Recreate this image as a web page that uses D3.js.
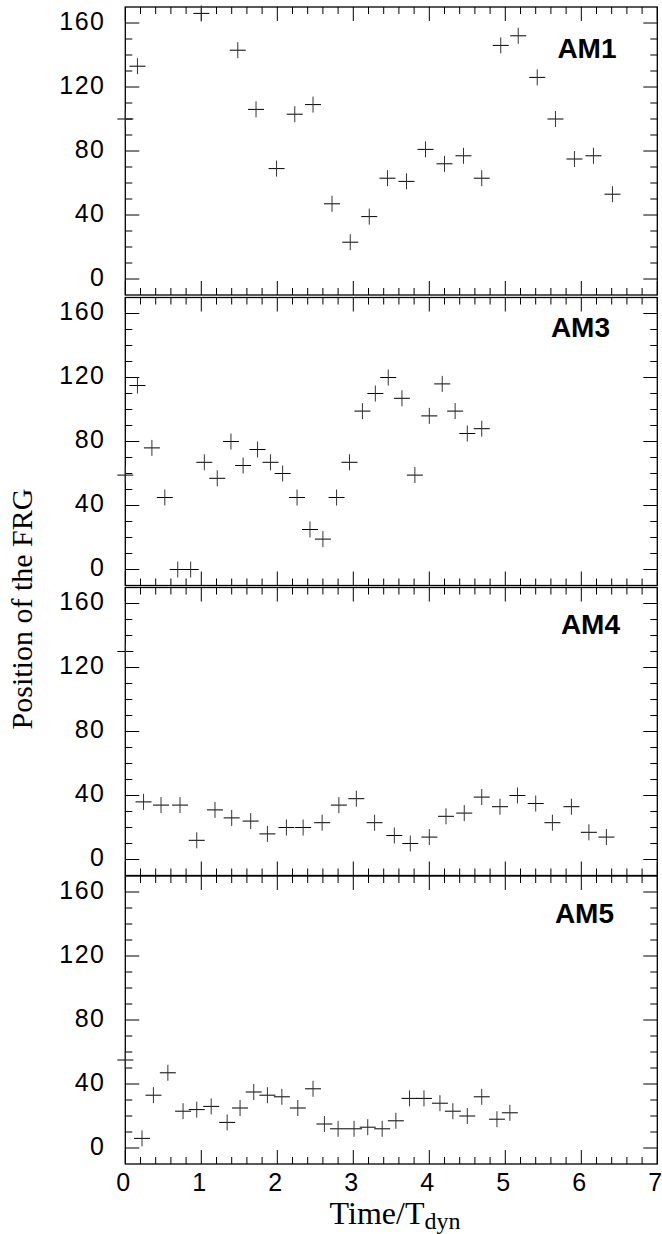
<!DOCTYPE html>
<html>
<head>
<meta charset="utf-8">
<script src="https://cdn.jsdelivr.net/npm/d3@7"></script>
<style>
  html, body { margin: 0; padding: 0; background: #fff; }
  svg { display: block; }
</style>
</head>
<body>
<svg id="chart" width="662" height="1234"></svg>
<script>
// ---------- data ----------
const panelNames = ["AM1", "AM3", "AM4", "AM5"];

const am1Time = [0, 0.16, 1.0, 1.48, 1.72, 1.99, 2.23, 2.47, 2.72, 2.96, 3.21, 3.45, 3.70, 3.95, 4.20, 4.45, 4.69, 4.94, 5.17, 5.42, 5.66, 5.91, 6.16, 6.41];
const am1Pos  = [100, 133, 166, 143, 106, 69, 103, 109, 47, 23, 39, 63, 61, 81, 72, 77, 63, 146, 152, 126, 100, 75, 77, 53];

const am3Time = [0, 0.16, 0.35, 0.52, 0.69, 0.86, 1.04, 1.21, 1.39, 1.55, 1.74, 1.91, 2.07, 2.26, 2.43, 2.60, 2.78, 2.95, 3.12, 3.29, 3.46, 3.64, 3.81, 4.00, 4.17, 4.34, 4.50, 4.69];
const am3Pos  = [59, 115, 76, 45, 0, 0, 67, 57, 80, 65, 75, 67, 60, 45, 25, 19, 45, 67, 99, 110, 120, 107, 59, 96, 116, 99, 85, 88];

const am4Time = [0, 0.24, 0.47, 0.72, 0.94, 1.18, 1.40, 1.65, 1.87, 2.12, 2.34, 2.59, 2.81, 3.04, 3.28, 3.54, 3.75, 4.00, 4.22, 4.46, 4.69, 4.93, 5.16, 5.40, 5.62, 5.87, 6.10, 6.33];
const am4Pos  = [130, 36, 34, 34, 12, 31, 26, 24, 16, 20, 20, 23, 34, 38, 23, 15, 10, 14, 27, 29, 39, 33, 40, 35, 23, 33, 17, 14];

const am5Time = [0, 0.22, 0.37, 0.56, 0.76, 0.94, 1.13, 1.34, 1.51, 1.69, 1.87, 2.06, 2.27, 2.47, 2.62, 2.80, 3.01, 3.19, 3.38, 3.56, 3.74, 3.93, 4.14, 4.31, 4.50, 4.69, 4.89, 5.06];
const am5Pos  = [55, 6, 33, 47, 23, 24, 26, 16, 25, 35, 33, 32, 25, 37, 15, 12, 12, 13, 12, 17, 31, 31, 28, 23, 20, 32, 18, 22];

const seriesTime = [am1Time, am3Time, am4Time, am5Time];
const seriesPos  = [am1Pos, am3Pos, am4Pos, am5Pos];

const xTickLabels = [0, 1, 2, 3, 4, 5, 6, 7];
const yTickLabels = [0, 40, 80, 120, 160];

// ---------- layout ----------
const svg = d3.select("#chart");
const left = 125.3, right = 657.3;
const panelTops = [7, 297.5, 587.5, 876];
const panelH = 288;
const labelRight = [616.5, 610, 620, 614];
const labelBase = [50.5, 39, 46.5, 47];

const x = d3.scaleLinear().domain([0, 7]).range([left, right]);
const xMinor = d3.range(0, 7.0001, 0.2).map(v => +v.toFixed(2)).filter(v => Math.abs(v - Math.round(v)) > 1e-6);
const yMinor = d3.range(10, 170, 10).filter(v => v % 40 !== 0);

const tickFont = "'Liberation Sans', Arial, Helvetica, sans-serif";
const serif = "'Liberation Serif', 'Times New Roman', Times, serif";

panelNames.forEach((name, i) => {
  const top = panelTops[i];
  const y = d3.scaleLinear().domain([-10, 170]).range([top + panelH, top]);
  const g = svg.append("g");

  // frame
  g.append("rect")
    .attr("x", left).attr("y", top)
    .attr("width", right - left).attr("height", panelH)
    .attr("fill", "none").attr("stroke", "#000").attr("stroke-width", 1.3);

  // y ticks (left & right, inward)
  const yt = yTickLabels.map(v => ({v, len: 14})).concat(yMinor.map(v => ({v, len: 7})));
  g.selectAll(".ytl").data(yt).join("line")
    .attr("x1", left).attr("x2", d => left + d.len)
    .attr("y1", d => y(d.v)).attr("y2", d => y(d.v))
    .attr("stroke", "#000").attr("stroke-width", 1);
  g.selectAll(".ytr").data(yt).join("line")
    .attr("x1", right).attr("x2", d => right - d.len)
    .attr("y1", d => y(d.v)).attr("y2", d => y(d.v))
    .attr("stroke", "#000").attr("stroke-width", 1);

  // x ticks (top & bottom, inward)
  const xt = xTickLabels.map(v => ({v, len: 14})).concat(xMinor.map(v => ({v, len: 7})));
  g.selectAll(".xtb").data(xt).join("line")
    .attr("x1", d => x(d.v)).attr("x2", d => x(d.v))
    .attr("y1", top + panelH).attr("y2", d => top + panelH - d.len)
    .attr("stroke", "#000").attr("stroke-width", 1);
  g.selectAll(".xtt").data(xt).join("line")
    .attr("x1", d => x(d.v)).attr("x2", d => x(d.v))
    .attr("y1", top).attr("y2", d => top + d.len)
    .attr("stroke", "#000").attr("stroke-width", 1);

  // y tick labels
  g.selectAll(".ylab").data(yTickLabels).join("text")
    .attr("x", 104 + 1.5).attr("y", d => y(d) + 6.5)
    .attr("text-anchor", "end")
    .attr("font-family", tickFont).attr("font-size", 25)
    .attr("letter-spacing", 1.5)
    .attr("fill", "#000")
    .text(d => d);

  // data crosses
  const pts = seriesTime[i].map((t, k) => ({t, p: seriesPos[i][k]}));
  const cg = g.selectAll(".pt").data(pts).join("g");
  cg.append("line")
    .attr("x1", d => x(d.t) - 8).attr("x2", d => x(d.t) + 8)
    .attr("y1", d => y(d.p)).attr("y2", d => y(d.p))
    .attr("stroke", "#000").attr("stroke-width", 1);
  cg.append("line")
    .attr("x1", d => x(d.t)).attr("x2", d => x(d.t))
    .attr("y1", d => y(d.p) - 8).attr("y2", d => y(d.p) + 8)
    .attr("stroke", "#333").attr("stroke-width", 1);

  // panel label
  g.append("text")
    .attr("x", labelRight[i]).attr("y", top + labelBase[i])
    .attr("text-anchor", "end")
    .attr("font-family", tickFont).attr("font-weight", "bold").attr("font-size", 28)
    .attr("fill", "#000")
    .text(name);

  // x tick labels on the bottom panel only
  if (i === panelNames.length - 1) {
    g.selectAll(".xlab").data(xTickLabels).join("text")
      .attr("x", d => x(d) - 2).attr("y", top + panelH + 27)
      .attr("text-anchor", "middle")
      .attr("font-family", tickFont).attr("font-size", 25)
      .attr("fill", "#000")
      .text(d => d);
  }
});

// axis titles
svg.append("text")
  .attr("transform", "translate(32,609) rotate(-90)")
  .attr("text-anchor", "middle")
  .attr("font-family", serif).attr("font-size", 30)
  .attr("fill", "#000")
  .text("Position of the FRG");

const xt = svg.append("text")
  .attr("x", 395).attr("y", 1224)
  .attr("text-anchor", "middle")
  .attr("font-family", serif).attr("font-size", 32)
  .attr("fill", "#000");
xt.append("tspan").text("Time/T");
xt.append("tspan").attr("dy", 5).attr("font-size", 24).text("dyn");
</script>
</body>
</html>
